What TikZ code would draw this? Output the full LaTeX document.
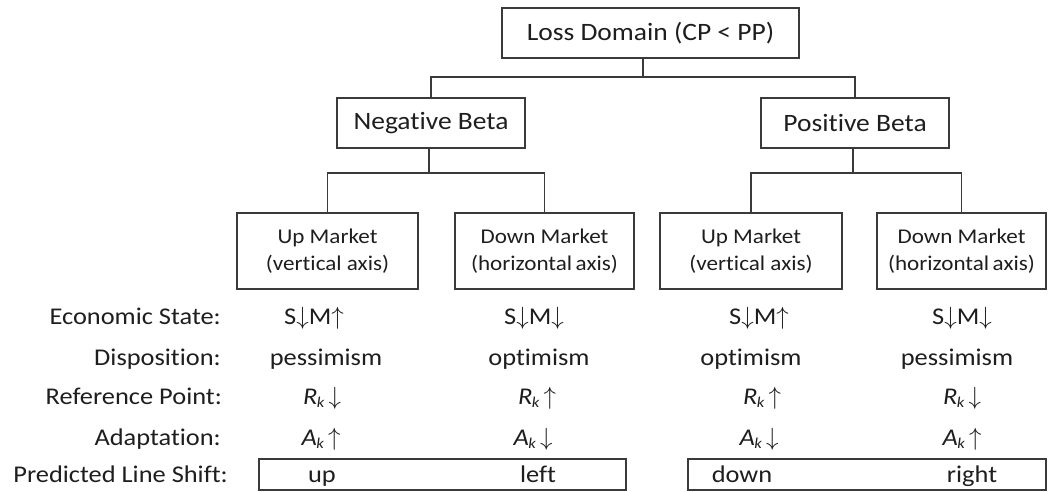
\documentclass[tikz,border=0pt]{standalone}
\usepackage{fontspec}
\setmainfont[FakeStretch=1.1,Ligatures={NoCommon}]{Carlito}
\definecolor{linec}{HTML}{3A3A3A}
\definecolor{textc}{HTML}{1E1E1E}
\newcommand{\dn}{\ensuremath{\downarrow}}
\newcommand{\upa}{\ensuremath{\uparrow}}
\newcommand{\subk}{\raisebox{-0.3ex}{\fontsize{15}{15}\selectfont\textit{k}}}
\newcommand{\Rk}{\textit{R}\kern-0.5pt\subk}
\newcommand{\Ak}{\textit{A}\kern-0.5pt\subk}
\begin{document}
\begin{tikzpicture}[x=1pt,y=-1pt,
  box/.style={draw=linec, line width=1.6pt, inner sep=0pt, text=textc, align=center},
  bigbox/.style={box, minimum height=50pt, font=\fontsize{25}{28}\selectfont},
  mktbox/.style={box, minimum height=76pt, font=\fontsize{21}{27}\selectfont},
  shiftbox/.style={draw=linec, line width=1.6pt, inner sep=0pt},
  conn/.style={draw=linec, line width=1.6pt},
  rowlab/.style={anchor=east, text=textc, inner sep=0pt, text height=17pt, text depth=5pt, font=\fontsize{24}{28}\selectfont},
  cell/.style={text=textc, inner sep=0pt, text height=17pt, text depth=5pt, font=\fontsize{24}{28}\selectfont}]
\useasboundingbox (0,0) rectangle (1048,491);
% tree
\node[bigbox, minimum width=297pt] (loss) at (650.5,33) {Loss Domain (CP {\textless} PP)};
\node[bigbox, minimum width=188pt] (neg) at (431,123) {Negative Beta};
\node[bigbox, minimum width=188pt] (pos) at (855,123) {Positive Beta};
\node[mktbox, minimum width=181pt] (um1) at (327.5,251) {Up Market\\(vertical axis)};
\node[mktbox, minimum width=179pt] (dm1) at (544.5,251) {Down Market\\(horizontal\,axis)};
\node[mktbox, minimum width=182pt] (um2) at (751,251) {Up Market\\(vertical axis)};
\node[mktbox, minimum width=169pt] (dm2) at (961.5,251) {Down Market\\(horizontal\,axis)};
\coordinate (j0) at (643,77);
\coordinate (j1) at (429,173);
\coordinate (j2) at (853,173);
\draw[conn] (loss.south -| j0) -- (j0);
\draw[conn] (j0) -| (neg.north);
\draw[conn] (j0) -| (pos.north);
\draw[conn] (neg.south -| j1) -- (j1);
\draw[conn] (j1) -| (um1.north);
\draw[conn] (j1) -| (dm1.north);
\draw[conn] (pos.south -| j2) -- (j2);
\draw[conn] (j2) -| (um2.north);
\draw[conn] (j2) -| (dm2.north);
% rows
\node[rowlab] (l1) at (221,318) {Economic State:};
\node[rowlab] (l2) at (221,359) {Disposition:};
\node[rowlab] (l3) at (222,398) {Reference Point:};
\node[rowlab] (l4) at (221,439) {Adaptation:};
\node[rowlab] (l5) at (228,476) {Predicted Line Shift:};
\node[cell] (e1) at (314,318) {S\dn M\upa};
\node[cell] (e2) at (534,318) {S\dn M\dn};
\node[cell] (e3) at (759,318) {S\dn M\upa};
\node[cell] (e4) at (962,318) {S\dn M\dn};
\node[cell] (d1) at (326,359) {pessimism};
\node[cell] (d2) at (539,359) {optimism};
\node[cell] (d3) at (751,359) {optimism};
\node[cell] (d4) at (957,359) {pessimism};
\node[cell] (r1) at (322,398) {\Rk\,\dn};
\node[cell] (r2) at (537,398) {\Rk\,\upa};
\node[cell] (r3) at (762,398) {\Rk\,\upa};
\node[cell] (r4) at (962,398) {\Rk\,\dn};
\node[cell] (a1) at (321,439) {\Ak\,\upa};
\node[cell] (a2) at (533,439) {\Ak\,\dn};
\node[cell] (a3) at (759,439) {\Ak\,\dn};
\node[cell] (a4) at (962,439) {\Ak\,\upa};
\node[shiftbox, minimum width=367pt, minimum height=31pt] (s1) at (442.5,474.5) {};
\node[shiftbox, minimum width=358pt, minimum height=31pt] (s2) at (867,474.5) {};
\node[cell] (p1) at (322,476) {up};
\node[cell] (p2) at (538,476) {left};
\node[cell] (p3) at (742,476) {down};
\node[cell] (p4) at (972,476) {right};
\end{tikzpicture}
\end{document}
